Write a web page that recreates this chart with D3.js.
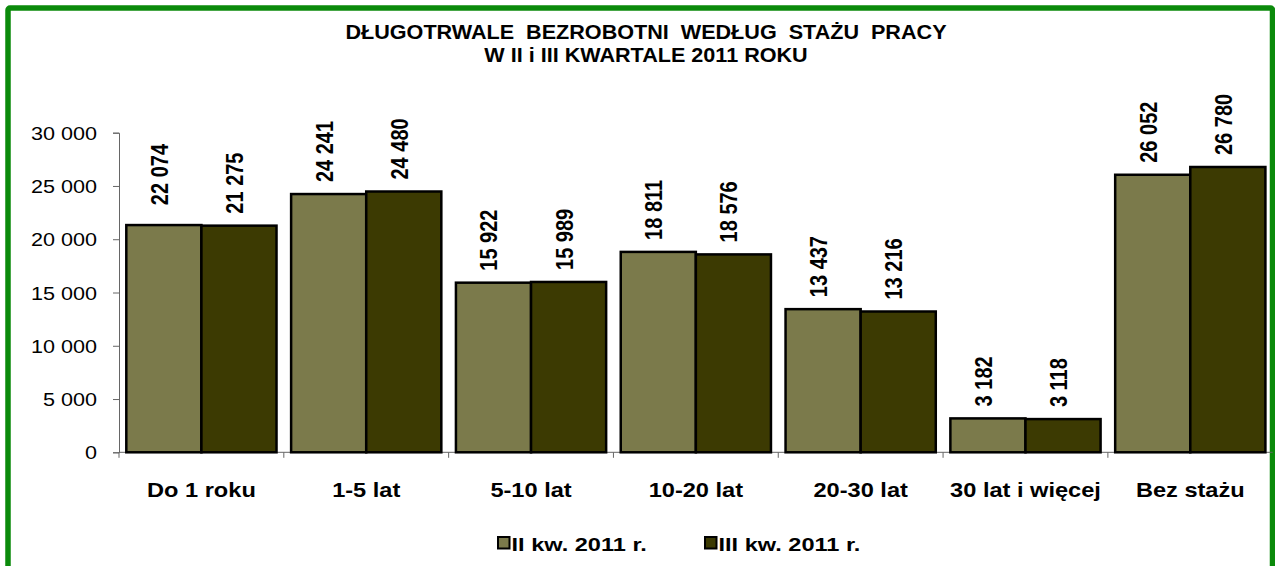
<!DOCTYPE html>
<html>
<head>
<meta charset="utf-8">
<script src="https://cdn.jsdelivr.net/npm/d3@7"></script>
<style>
  body { margin: 0; background: #fff; }
  text { font-family: "Liberation Sans", Arial, sans-serif; }
</style>
</head>
<body>
<svg id="chart" width="1275" height="566"></svg>
<script>
// data
const categories = ["Do 1 roku", "1-5 lat", "5-10 lat", "10-20 lat", "20-30 lat", "30 lat i więcej", "Bez stażu"];
const seriesNames = ["II kw. 2011 r.", "III kw. 2011 r."];
// bar heights as drawn (first bar in the source is drawn lower than its label)
const barsII = [21330, 24241, 15922, 18811, 13437, 3182, 26052];
const barsIII = [21275, 24480, 15989, 18576, 13216, 3118, 26780];
// printed data labels
const labelsII = [22074, 24241, 15922, 18811, 13437, 3182, 26052];
const labelsIII = [21275, 24480, 15989, 18576, 13216, 3118, 26780];
const yTicks = [0, 5000, 10000, 15000, 20000, 25000, 30000];
const titleLines = ["DŁUGOTRWALE  BEZROBOTNI  WEDŁUG  STAŻU  PRACY", "W II i III KWARTALE 2011 ROKU"];

const colors = ["#7b7a4b", "#3c3a02"];
const sx = 1.18; // source picture is stretched sideways

const svg = d3.select("#chart");
const fmt = v => d3.format(",")(v).replace(/,/g, " ");

// frame
svg.append("rect")
    .attr("x", 8).attr("y", 8)
    .attr("width", 1264.5).attr("height", 580)
    .attr("rx", 2)
    .attr("fill", "none")
    .attr("stroke", "#0b8a0b")
    .attr("stroke-width", 5.5);

// title
svg.selectAll(".title").data(titleLines).join("text")
    .attr("class", "title")
    .attr("transform", (d, i) => `translate(646,${39 + i * 23}) scale(1.08,1)`)
    .attr("text-anchor", "middle")
    .style("font-size", "20px")
    .style("font-weight", "bold")
    .style("white-space", "pre")
    .text(d => d);

const x = d3.scaleBand()
    .domain(categories)
    .range([119, 1272.7])
    .paddingInner(0.0886)
    .paddingOuter(0.0443);

const x1 = d3.scaleBand()
    .domain([0, 1])
    .range([0, x.bandwidth()]);

const y = d3.scaleLinear()
    .domain([0, 30000])
    .range([452.3, 132.7]);

// y axis
const yAxis = svg.append("g")
    .attr("transform", "translate(119,0)")
    .call(d3.axisLeft(y).tickValues(yTicks).tickSize(6).tickFormat(fmt));
yAxis.select(".domain").attr("stroke", "#666");
yAxis.selectAll(".tick line").attr("stroke", "#666");
yAxis.selectAll(".tick text")
    .attr("x", 0).attr("dy", null)
    .attr("transform", "translate(-22,6.6) scale(" + sx + ",1)")
    .attr("fill", "#000")
    .style("font-size", "18.3px")
    .style("font-family", "'Liberation Sans', Arial, sans-serif");

// x axis line + boundary ticks
svg.append("line")
    .attr("x1", 119).attr("x2", 1272.7)
    .attr("y1", y(0)).attr("y2", y(0))
    .attr("stroke", "#666");
const step = x.step();
svg.selectAll(".xtick").data(categories).join("line")
    .attr("class", "xtick")
    .attr("x1", d => x(d) - step * x.paddingInner() / 2)
    .attr("x2", d => x(d) - step * x.paddingInner() / 2)
    .attr("y1", y(0)).attr("y2", y(0) + 5.5)
    .attr("stroke", "#666");

// bars
const rows = categories.map((c, i) => ({
    cat: c,
    vals: [barsII[i], barsIII[i]],
    labs: [labelsII[i], labelsIII[i]]
}));

const groups = svg.selectAll(".cat").data(rows).join("g")
    .attr("class", "cat")
    .attr("transform", d => `translate(${x(d.cat)},0)`);

groups.selectAll("rect").data(d => d.vals.map((v, k) => ({ v, k }))).join("rect")
    .attr("x", d => x1(d.k))
    .attr("y", d => y(d.v))
    .attr("width", x1.bandwidth())
    .attr("height", d => y(0) - y(d.v))
    .attr("fill", d => colors[d.k])
    .attr("stroke", "#000")
    .attr("stroke-width", 2.5);

groups.selectAll(".lab").data(d => d.labs.map((v, k) => ({ v, k }))).join("text")
    .attr("class", "lab")
    .attr("transform", d => `translate(${x1(d.k) + x1.bandwidth() / 2 + 4},${y(d.v) - 12}) scale(${sx},1) rotate(-90)`)
    .style("font-size", "20px")
    .style("font-weight", "bold")
    .text(d => fmt(d.v));

// category labels
svg.selectAll(".catlab").data(categories).join("text")
    .attr("class", "catlab")
    .attr("transform", d => `translate(${x(d) + x.bandwidth() / 2},497) scale(${sx},1)`)
    .attr("text-anchor", "middle")
    .style("font-size", "20px")
    .style("font-weight", "bold")
    .text(d => d);

// legend
const legendX = [498, 705];
const legend = svg.selectAll(".leg").data(seriesNames).join("g")
    .attr("class", "leg")
    .attr("transform", (d, i) => `translate(${legendX[i]},537)`);
legend.append("rect")
    .attr("width", 11.5).attr("height", 11.5)
    .attr("fill", (d, i) => colors[i])
    .attr("stroke", "#000")
    .attr("stroke-width", 2);
legend.append("text")
    .attr("transform", "translate(13.5,13.8) scale(1.24,1)")
    .style("font-size", "19px")
    .style("font-weight", "bold")
    .text(d => d);
</script>
</body>
</html>
